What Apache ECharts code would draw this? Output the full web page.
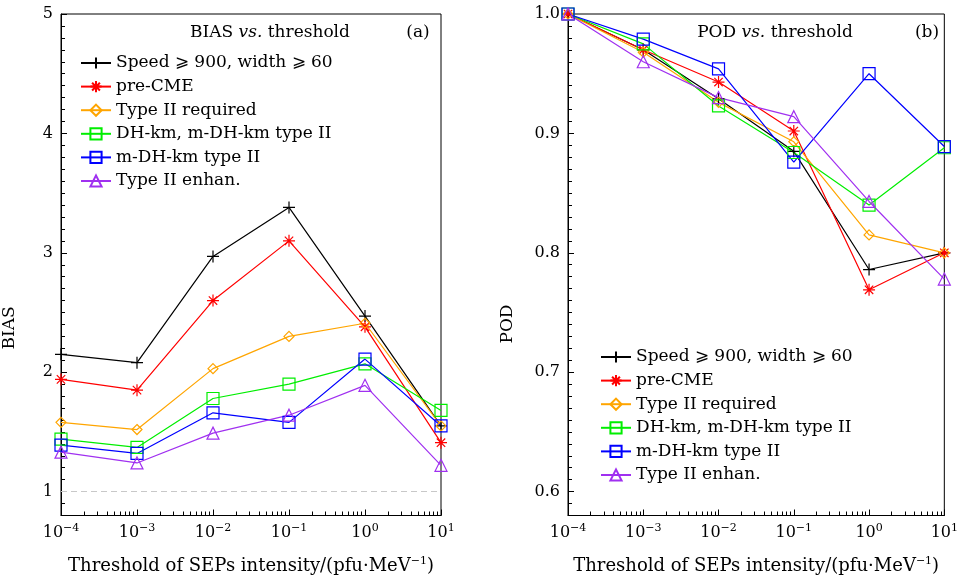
<!DOCTYPE html>
<html>
<head>
<meta charset="utf-8">
<script src="https://cdn.jsdelivr.net/npm/echarts@6/dist/echarts.min.js"></script>
<style>
	html, body { margin: 0; padding: 0; background: #fff; }
	#chart { width: 961px; height: 580px; }
</style>
</head>
<body>
<div id="chart"></div>
<script>
// thresholds (pfu/MeV)
const thresholds = [1e-4, 1e-3, 1e-2, 1e-1, 1, 10]
const biasTicks = [1, 2, 3, 4, 5]
const podTicks = [0.6, 0.7, 0.8, 0.9, 1.0]

const names = [
	'Speed ⩾ 900, width ⩾ 60',
	'pre-CME',
	'Type II required',
	'DH-km, m-DH-km type II',
	'm-DH-km type II',
	'Type II enhan.'
]

const biasSpeed = [2.15, 2.08, 2.97, 3.38, 2.47, 1.55]
const biasPreCME = [1.94, 1.85, 2.60, 3.10, 2.38, 1.41]
const biasTypeII = [1.58, 1.52, 2.03, 2.30, 2.41, 1.55]
const biasDH = [1.44, 1.37, 1.78, 1.90, 2.07, 1.68]
const biasMDH = [1.39, 1.32, 1.66, 1.58, 2.11, 1.55]
const biasEnhan = [1.33, 1.24, 1.49, 1.64, 1.89, 1.22]

const podSpeed = [1.0, 0.970, 0.929, 0.885, 0.786, 0.800]
const podPreCME = [1.0, 0.970, 0.943, 0.902, 0.769, 0.800]
const podTypeII = [1.0, 0.968, 0.926, 0.893, 0.815, 0.800]
const podDH = [1.0, 0.975, 0.923, 0.884, 0.840, 0.888]
const podMDH = [1.0, 0.979, 0.954, 0.876, 0.950, 0.889]
const podEnhan = [1.0, 0.960, 0.930, 0.914, 0.843, 0.778]

const colors = ['#000000', '#ff0000', '#ffa500', '#00ee00', '#0000ff', '#a030f0']
const symbols = [
	'path://M0,5L10,5M5,0L5,10',
	'path://M0,5L10,5M5,0L5,10M1.5,1.5L8.5,8.5M1.5,8.5L8.5,1.5',
	'diamond',
	'rect',
	'rect',
	'triangle'
]
const symbolSizes = [12, 12, 10, 12, 12, 12]

const FONT = 'DejaVu Serif'

const chart = echarts.init(document.getElementById('chart'))

const supLabel = {
	fontFamily: FONT,
	fontSize: 16,
	color: '#000',
	rich: {
		s: { fontFamily: FONT, fontSize: 11, color: '#000', padding: [0, 0, 10, 0] }
	}
}

function grids(left) {
	return { left: left, width: 380, top: 14, height: 507, show: true, borderColor: '#000', borderWidth: 1 }
}

function xAxis(gridIndex) {
	return {
		type: 'log',
		gridIndex: gridIndex,
		min: 1e-4,
		max: 10,
		logBase: 10,
		splitLine: { show: false },
		axisLine: { show: true, onZero: false, lineStyle: { color: '#000' } },
		axisTick: { inside: true, length: 6, lineStyle: { color: '#000' } },
		minorTick: { show: true, splitNumber: 9, length: 4, lineStyle: { color: '#000' } },
		axisLabel: {
			...supLabel,
			margin: 7,
			formatter: v => {
				const e = Math.round(Math.log10(v))
				return '10{s|' + (e < 0 ? '−' + (-e) : e) + '}'
			}
		},
		name: 'Threshold of SEPs intensity/(pfu·MeV{s|−1})',
		nameLocation: 'middle',
		nameGap: 40,
		nameTextStyle: { ...supLabel, fontSize: 18 }
	}
}

function yAxes(gridIndex, min, max, ticks, minorStep, digits) {
	return [
		{
			type: 'value',
			gridIndex: gridIndex,
			min: min,
			max: max,
			splitLine: { show: false },
			axisLine: { show: true, onZero: false, lineStyle: { color: '#000' } },
			axisTick: { inside: true, length: 6, lineStyle: { color: '#000' }, customValues: ticks },
			axisLabel: {
				fontFamily: FONT, fontSize: 16, color: '#000', margin: 8,
				customValues: ticks,
				formatter: v => v.toFixed(digits)
			}
		},
		{
			// minor ticks only
			type: 'value',
			gridIndex: gridIndex,
			min: min,
			max: max,
			interval: minorStep,
			position: 'left',
			splitLine: { show: false },
			axisLine: { show: false, onZero: false },
			axisLabel: { show: false },
			axisTick: { show: true, inside: true, length: 4, lineStyle: { color: '#000' } }
		}
	]
}

function makeSeries(data, i, xIdx, yIdx) {
	const hollow = i >= 2
	return {
		name: names[i],
		type: 'line',
		xAxisIndex: xIdx,
		yAxisIndex: yIdx,
		data: thresholds.map((t, j) => [t, data[j]]),
		symbol: symbols[i],
		symbolSize: symbolSizes[i],
		showAllSymbol: true,
		clip: true,
		lineStyle: { color: colors[i], width: 1.2 },
		itemStyle: {
			color: hollow ? 'rgba(0,0,0,0)' : colors[i],
			borderColor: colors[i],
			borderWidth: 1.2
		},
		emphasis: { disabled: true },
		animation: false
	}
}

const biasData = [biasSpeed, biasPreCME, biasTypeII, biasDH, biasMDH, biasEnhan]
const podData = [podSpeed, podPreCME, podTypeII, podDH, podMDH, podEnhan]

const series = []
biasData.forEach((d, i) => series.push(makeSeries(d, i, 0, 0)))
podData.forEach((d, i) => series.push(makeSeries(d, i, 1, 2)))
// reference line BIAS = 1
series[0].markLine = {
	silent: true,
	symbol: 'none',
	label: { show: false },
	lineStyle: { color: '#c8c8c8', type: [6, 4], width: 1.2 },
	data: [{ yAxis: 1 }]
}

const legendBase = {
	orient: 'vertical',
	data: names,
	itemWidth: 30,
	itemHeight: 14,
	itemGap: 5.6,
	textStyle: { fontFamily: FONT, fontSize: 17, color: '#000', lineHeight: 18 },
	selectedMode: false
}

const titleRich = {
	n: { fontFamily: FONT, fontSize: 17, color: '#000', fontWeight: 'normal' },
	i: { fontFamily: FONT, fontSize: 17, color: '#000', fontWeight: 'normal', fontStyle: 'italic' }
}

const option = {
	backgroundColor: '#fff',
	animation: false,
	title: [
		{ text: '{n|BIAS }{i|vs.}{n| threshold}', left: 265, top: 19, textAlign: 'center', textStyle: { fontWeight: 'normal', rich: titleRich } },
		{ text: '(a)', left: 413, top: 19, textAlign: 'center', textStyle: { fontFamily: FONT, fontSize: 17, fontWeight: 'normal', color: '#000' } },
		{ text: '{n|POD }{i|vs.}{n| threshold}', left: 770, top: 19, textAlign: 'center', textStyle: { fontWeight: 'normal', rich: titleRich } },
		{ text: '(b)', left: 922, top: 19, textAlign: 'center', textStyle: { fontFamily: FONT, fontSize: 17, fontWeight: 'normal', color: '#000' } }
	],
	graphic: [
		{ type: 'text', x: 10, y: 328, rotation: Math.PI / 2,
			style: { text: 'BIAS', font: '17px "DejaVu Serif"', fill: '#000', align: 'center', verticalAlign: 'middle' } },
		{ type: 'text', x: 508, y: 324, rotation: Math.PI / 2,
			style: { text: 'POD', font: '17px "DejaVu Serif"', fill: '#000', align: 'center', verticalAlign: 'middle' } }
	],
	legend: [
		{ ...legendBase, left: 75, top: 49 },
		{ ...legendBase, left: 595, top: 343 }
	],
	grid: [grids(61), grids(568)],
	xAxis: [xAxis(0), xAxis(1)],
	yAxis: [...yAxes(0, 0.8, 5, biasTicks, 0.1, 0), ...yAxes(1, 0.58, 1.0, podTicks, 0.01, 1)],
	series: series
}

chart.setOption(option)
</script>
</body>
</html>
